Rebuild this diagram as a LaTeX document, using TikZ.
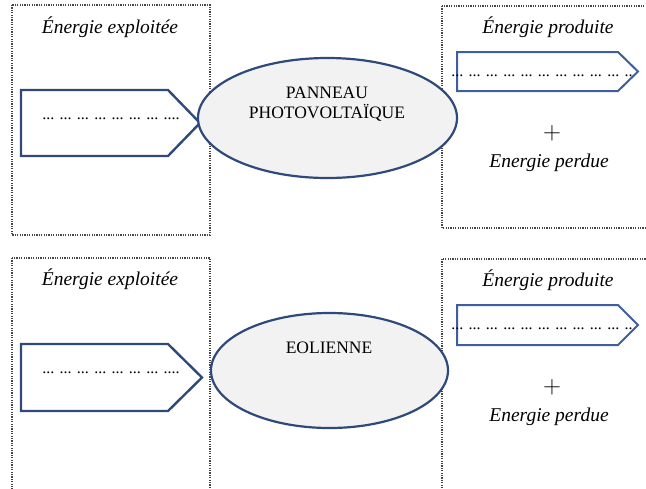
\documentclass[tikz,border=0pt]{standalone}
\usepackage{fontspec}
\setmainfont{Liberation Serif}
\usetikzlibrary{shapes.geometric}

\definecolor{bordA}{RGB}{47,74,122}
\definecolor{bordB}{RGB}{62,94,160}
\definecolor{fondE}{RGB}{242,242,242}
\definecolor{pointille}{RGB}{70,70,70}

\newcommand{\taille}{\fontsize{17.5}{20.5}\selectfont}

\tikzset{
  cadre/.style={pointille,line width=1.5pt,dash pattern=on 1.2pt off 1.2pt},
  fleche/.style={bordA,line width=2.4pt,fill=white,line join=miter},
  flechesortie/.style={bordB,line width=2pt,fill=white,line join=miter},
  bulle/.style={ellipse,draw=bordA,line width=2.2pt,fill=fondE,inner sep=0pt},
  titre/.style={font=\fontsize{19.5}{23}\selectfont\itshape},
  points/.style={inner sep=0pt,font=\fontsize{16}{19}\selectfont},
  signe/.style={font=\fontsize{26}{28}\selectfont}
}

\begin{document}
\begin{tikzpicture}[x=1pt,y=-1pt,every node/.style={font=\taille}]
  \useasboundingbox (0,0) rectangle (646,488);
  \clip (0,0) rectangle (646,488);

  % panneau photovoltaique
  \draw[cadre] (12,5) rectangle (210,235);
  \draw[cadre] (442,6) rectangle (680,228);
  \node[titre] (exploiteA) at (110,27) {Énergie exploitée};
  \node[titre] (produiteA) at (548,27) {Énergie produite};
  \draw[fleche] (21,90) -- (168,90) -- (200,123) -- (168,156) -- (21,156) -- cycle;
  \node[points] (entreeA) at (111,119) {... ... ... ... ... ... ... ....};
  \draw[flechesortie] (457,52) -- (618,52) -- (638,71.5) -- (618,91) -- (457,91) -- cycle;
  \node[points] (sortieA) at (542,76) {... ... ... ... ... ... ... ... ... ... ..};
  \node[bulle,minimum width=259pt,minimum height=120pt] (pv) at (327.5,118) {};
  \node[align=center] (pvtexte) at (327,104) {PANNEAU\\PHOTOVOLTAÏQUE};
  \node[signe] (plusA) at (552,133) {$+$};
  \node[titre] (perdueA) at (549,163) {Energie perdue};

  % eolienne
  \draw[cadre] (12,258) rectangle (210,520);
  \draw[cadre] (442,259) rectangle (680,520);
  \node[titre] (exploiteB) at (110,279) {Énergie exploitée};
  \node[titre] (produiteB) at (548,280) {Énergie produite};
  \draw[fleche] (21,344) -- (168,344) -- (202,377.5) -- (168,411) -- (21,411) -- cycle;
  \node[points] (entreeB) at (111,373) {... ... ... ... ... ... ... ....};
  \draw[flechesortie] (457,305) -- (618,305) -- (638,325) -- (618,345) -- (457,345) -- cycle;
  \node[points] (sortieB) at (542,329) {... ... ... ... ... ... ... ... ... ... ..};
  \node[bulle,minimum width=237pt,minimum height=115pt] (eol) at (329.5,370.5) {};
  \node (eoltexte) at (329,348) {EOLIENNE};
  \node[signe] (plusB) at (552,387) {$+$};
  \node[titre] (perdueB) at (549,417) {Energie perdue};
\end{tikzpicture}
\end{document}
